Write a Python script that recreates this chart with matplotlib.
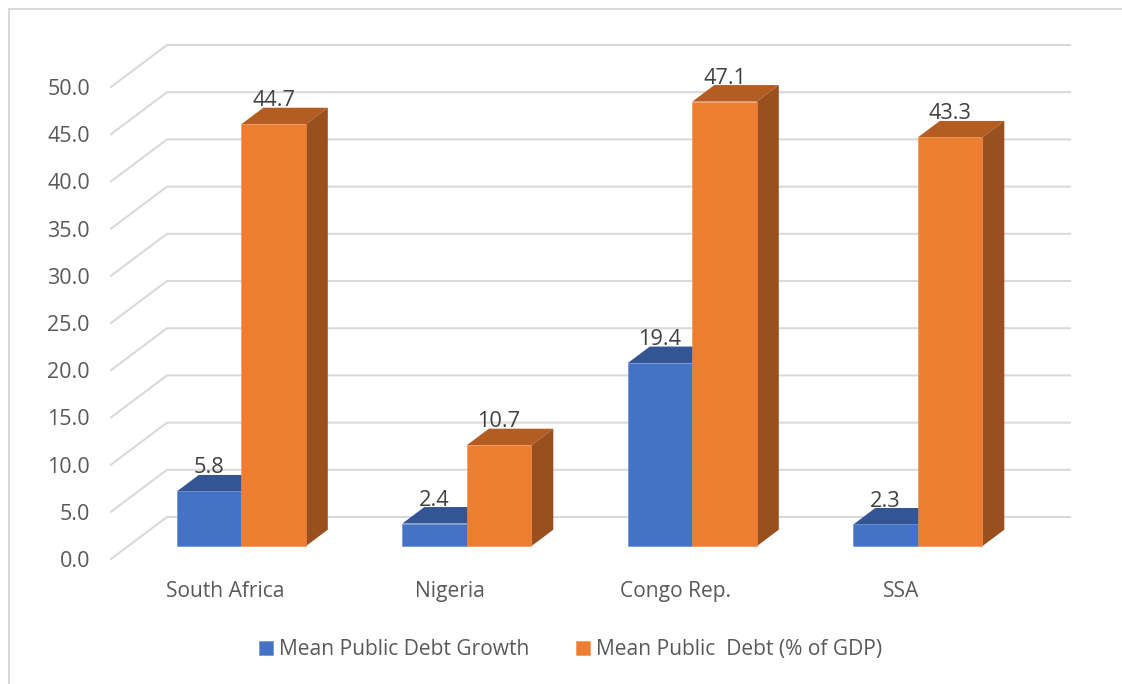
import matplotlib
matplotlib.use('Agg')
import numpy as np
from matplotlib import pyplot as plt
from matplotlib.lines import Line2D
from matplotlib.patches import Polygon

plt.rcParams['font.family'] = ['Open Sans', 'DejaVu Sans']

categories = ['South Africa', 'Nigeria', 'Congo Rep.', 'SSA']
debt_growth = [5.8, 2.4, 19.4, 2.3]
debt_gdp = [44.7, 10.7, 47.1, 43.3]
grid_values = [0, 5, 10, 15, 20, 25, 30, 35, 40, 45, 50]
series_names = ['Mean Public Debt Growth', 'Mean Public  Debt (% of GDP)']

W, H = 1122, 684
# pixel scale of the axes: one category step and one value unit
px_x = 225.5
px_y = 9.44
x0 = 241.3
y0 = 546.2


def dx(px):
    return px / px_x


def dy(px):
    return px / px_y


fig = plt.figure(figsize=(W / 100, H / 100), dpi=100)
ax = fig.add_axes([0, 0, 1, 1])
ax.set_xlim(-x0 / px_x, (W - x0) / px_x)
ax.set_ylim(-(H - y0) / px_y, y0 / px_y)
ax.axis('off')

# outer frame, open on the right and at the bottom
frame = '#d9d9d9'
fig.add_artist(Line2D([8.5 / W, 8.5 / W], [0, 1 - 8.5 / H], color=frame, lw=1.4))
fig.add_artist(Line2D([8.5 / W, 1], [1 - 8.5 / H, 1 - 8.5 / H], color=frame, lw=1.4))

# wall gridlines with the slanted floor part, value labels at the front end
wall_x = dx(167 - x0)
end_x = dx(1070 - x0)
front_x = dx(111 - x0)
wall_dy = dy(29.2)
front_dy = dy(-12.8)
for v in grid_values:
    ax.plot([front_x, wall_x, end_x], [v + front_dy, v + wall_dy, v + wall_dy],
            color=frame, lw=1.5, zorder=1, solid_joinstyle='miter')
    ax.text(dx(90 - x0), v + front_dy, '%.1f' % v, ha='right', va='center_baseline',
            fontsize=15.5, color='#595959')

bar_w = dx(64.5)
depth_x = dx(22)
depth_y = dy(16.5)
pos = np.arange(len(categories))


def box(xs, vals, face, top, side, edge):
    bars = ax.bar(xs, vals, width=bar_w, align='edge', color=face, edgecolor=edge,
                  linewidth=0.4, zorder=3)
    for x, v in zip(xs, vals):
        ax.add_patch(Polygon([(x, v), (x + bar_w, v), (x + bar_w + depth_x, v + depth_y),
                              (x + depth_x, v + depth_y)], facecolor=top, edgecolor='none', zorder=2))
        ax.add_patch(Polygon([(x + bar_w, 0), (x + bar_w + depth_x, depth_y),
                              (x + bar_w + depth_x, v + depth_y), (x + bar_w, v)],
                             facecolor=side, edgecolor='none', zorder=2))
    return bars


# blue first so the orange box sits in front of it
b1 = box(pos - bar_w, debt_growth, '#4472c4', '#335593', '#2a4a80', '#5f88d0')
for p in b1.patches:
    p.set_zorder(2.5)
b2 = box(pos, debt_gdp, '#ed7d31', '#b35d22', '#9a501e', '#f08f4e')
for p in b2.patches:
    p.set_zorder(3.5)

for vals, xs in ((debt_growth, pos - bar_w / 2), (debt_gdp, pos + bar_w / 2)):
    for x, v in zip(xs, vals):
        ax.annotate('%.1f' % v, (x, v), xytext=(0, 18.7), textcoords='offset points',
                    ha='center', va='center_baseline', fontsize=15.7, color='#404040', zorder=5)

for i, name in enumerate(categories):
    ax.text(i - dx(16.5), dy(-42.5), name, ha='center', va='center_baseline',
            fontsize=15.1, color='#595959')

ax.legend([b1.patches[0], b2.patches[0]], series_names, loc='center',
          bbox_to_anchor=(570.5 / W, 1 - 649.5 / H), bbox_transform=fig.transFigure,
          ncol=2, frameon=False, fontsize=15.1, labelcolor='#595959',
          handlelength=0.67, handleheight=0.67, handletextpad=0.28, columnspacing=2.2,
          borderpad=0)

fig.savefig('out.png', dpi=100, facecolor='white')
